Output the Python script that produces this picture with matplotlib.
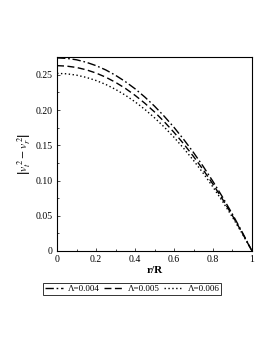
import matplotlib
matplotlib.use("Agg")
import matplotlib.pyplot as plt
from matplotlib.ticker import AutoMinorLocator

plt.rcParams['font.family'] = ['Liberation Serif', 'DejaVu Serif']
plt.rcParams['mathtext.fontset'] = 'stix'

# radial coordinate r/R
r = [0.0, 0.05, 0.1, 0.15, 0.2, 0.25, 0.3, 0.35, 0.4, 0.45, 0.5,
     0.55, 0.6, 0.65, 0.7, 0.75, 0.8, 0.85, 0.9, 0.95, 1.0]

# |v_t^2 - v_r^2|
lam_004 = [0.2740, 0.2733, 0.2713, 0.2678, 0.2630, 0.2569, 0.2493, 0.2404, 0.2302, 0.2185, 0.2055,
           0.1911, 0.1754, 0.1582, 0.1397, 0.1199, 0.0986, 0.0760, 0.0521, 0.0267, 0.0]
lam_005 = [0.2630, 0.2623, 0.2604, 0.2571, 0.2525, 0.2466, 0.2393, 0.2308, 0.2209, 0.2097, 0.1973,
           0.1834, 0.1683, 0.1519, 0.1341, 0.1151, 0.0947, 0.0730, 0.0500, 0.0256, 0.0]
lam_006 = [0.2520, 0.2514, 0.2495, 0.2463, 0.2419, 0.2363, 0.2293, 0.2211, 0.2117, 0.2010, 0.1890,
           0.1758, 0.1613, 0.1455, 0.1285, 0.1103, 0.0907, 0.0699, 0.0479, 0.0246, 0.0]

labels = ['Λ=0.004', 'Λ=0.005', 'Λ=0.006']

xticks = [0, 0.2, 0.4, 0.6, 0.8, 1.0]
xticklabels = ['0', '0.2', '0.4', '0.6', '0.8', '1']
yticks = [0, 0.05, 0.10, 0.15, 0.20, 0.25]
yticklabels = ['0', '0.05', '0.10', '0.15', '0.20', '0.25']

fig = plt.figure(figsize=(2.73, 3.53), dpi=100)
ax = fig.add_axes([0.209, 0.289, 0.714, 0.550])

ax.plot(r, lam_004, color='black', lw=1.0, linestyle=(0, (6, 2, 1.2, 2)), label=labels[0])
ax.plot(r, lam_005, color='black', lw=1.0, linestyle=(0, (5, 2.5)), label=labels[1])
ax.plot(r, lam_006, color='black', lw=1.0, linestyle=(0, (1, 1.8)), label=labels[2])

ax.set_xlim(0, 1)
ax.set_ylim(0, 0.2755)
ax.set_xticks(xticks)
ax.set_xticklabels(xticklabels)
ax.set_yticks(yticks)
ax.set_yticklabels(yticklabels)
ax.xaxis.set_minor_locator(AutoMinorLocator(2))
ax.yaxis.set_minor_locator(AutoMinorLocator(2))
ax.tick_params(which='both', direction='in', labelsize=7, pad=3, width=0.5)
ax.tick_params(which='major', length=2.5)
ax.tick_params(which='minor', length=1.5)
for s in ax.spines.values():
    s.set_linewidth(0.8)

ax.set_xlabel('r/R', fontsize=8, fontweight='bold', labelpad=1)
ax.set_ylabel(r'$\left|v_t^{\,2}-v_r^{\,2}\right|$', fontsize=8.5, labelpad=2)

leg = fig.legend(loc='center', bbox_to_anchor=(0.484, 0.181), ncol=3, fontsize=6.5,
                 frameon=True, fancybox=False, edgecolor='black', handlelength=2.0,
                 handletextpad=0.6, columnspacing=0.5, borderpad=0.2, borderaxespad=0)
leg.get_frame().set_linewidth(0.7)

fig.savefig('out.png', dpi=100)
